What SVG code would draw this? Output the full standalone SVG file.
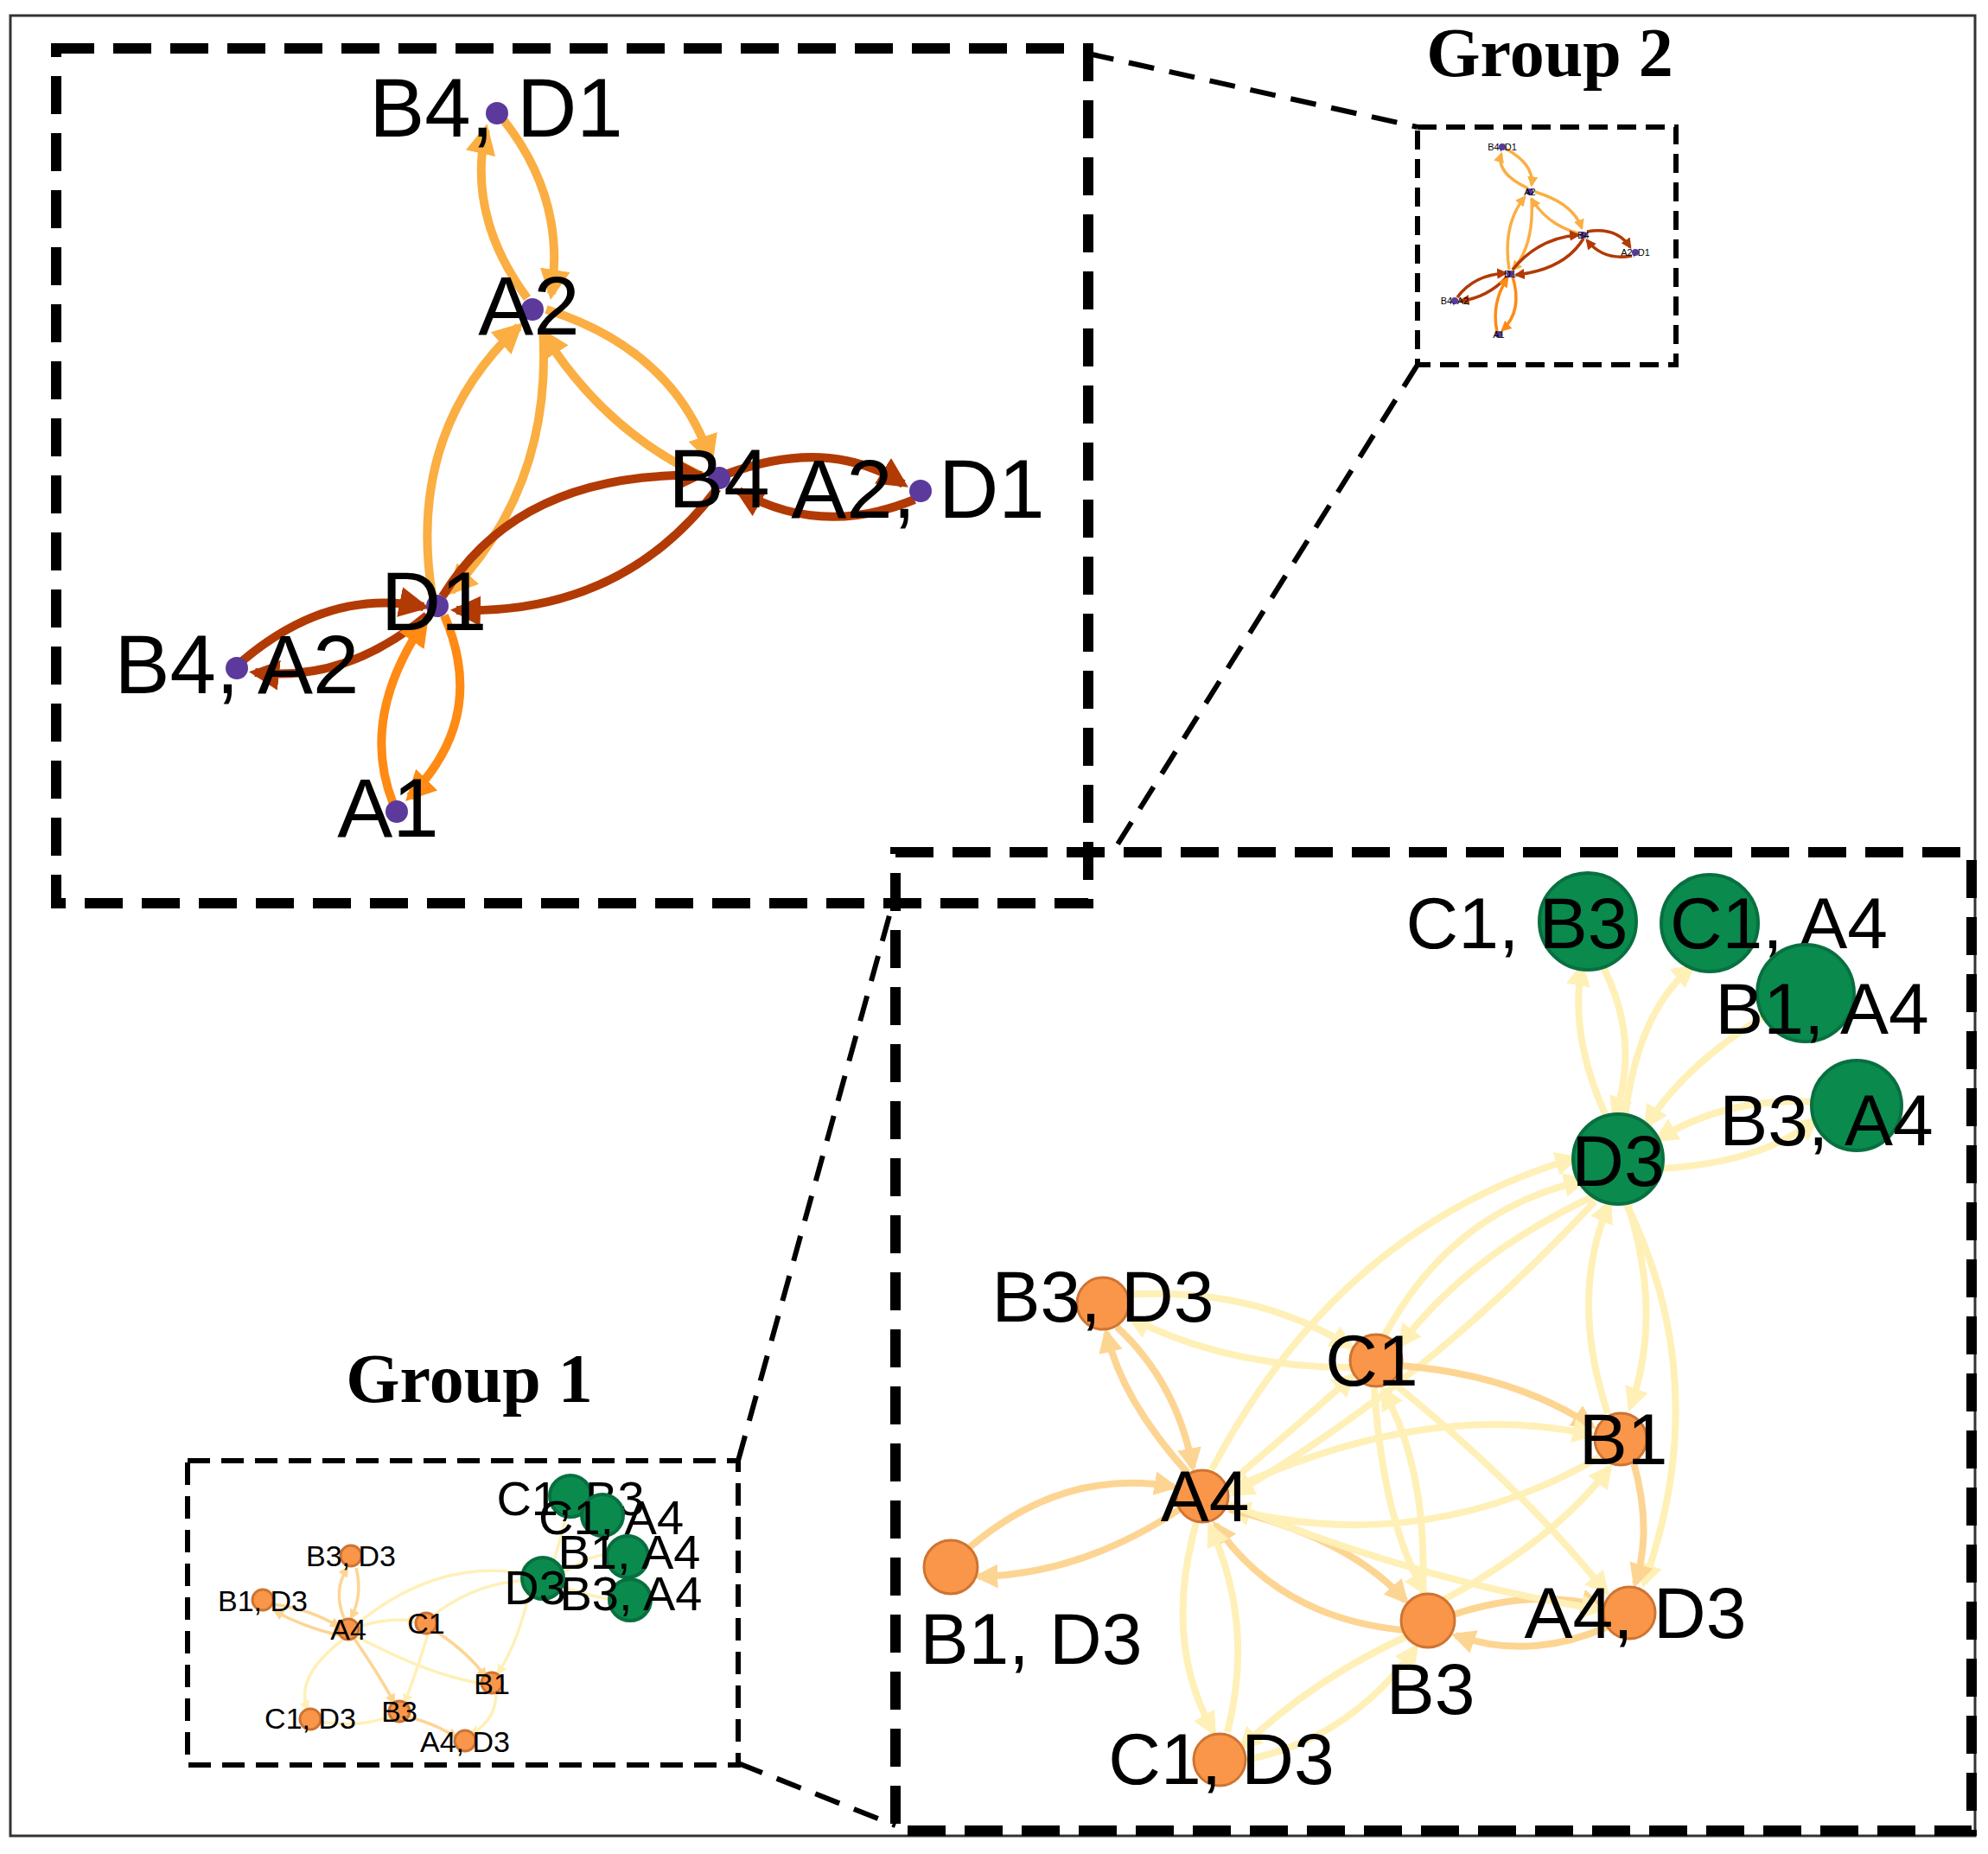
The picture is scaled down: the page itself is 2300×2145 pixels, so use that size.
<svg xmlns="http://www.w3.org/2000/svg" width="2300" height="2145" viewBox="0 0 2300 2145">
<style>
.lbl{font-family:"Liberation Sans",Arial,sans-serif;fill:#000;text-anchor:middle}
.ttl{font-family:"Liberation Serif","Times New Roman",serif;font-weight:bold;fill:#000;text-anchor:middle}
.box{fill:none;stroke:#000}
.e{fill:none}
.y{stroke:#FFF0B8}
.lo{stroke:#FDD593}
.am{stroke:#FBAE42}
.or{stroke:#FF8A14}
.rd{stroke:#B23A05}
.pn{fill:#5B3A9C}
.on{fill:#F9964A;stroke:#CF7431;stroke-width:3}
.gn{fill:#0B8A4E;stroke:#087040;stroke-width:4}
</style>
<defs>
<marker id="my" viewBox="0 0 10 10" refX="8" refY="5" markerWidth="3.5" markerHeight="3.5" orient="auto"><path d="M0,0L10,5L0,10z" fill="#FFF0B8"/></marker>
<marker id="mlo" viewBox="0 0 10 10" refX="8" refY="5" markerWidth="3.5" markerHeight="3.5" orient="auto"><path d="M0,0L10,5L0,10z" fill="#FDD593"/></marker>
<marker id="mam" viewBox="0 0 10 10" refX="8" refY="5" markerWidth="3.5" markerHeight="3.5" orient="auto"><path d="M0,0L10,5L0,10z" fill="#FBAE42"/></marker>
<marker id="mor" viewBox="0 0 10 10" refX="8" refY="5" markerWidth="3.5" markerHeight="3.5" orient="auto"><path d="M0,0L10,5L0,10z" fill="#FF8A14"/></marker>
<marker id="mrd" viewBox="0 0 10 10" refX="8" refY="5" markerWidth="3.5" markerHeight="3.5" orient="auto"><path d="M0,0L10,5L0,10z" fill="#B23A05"/></marker>
</defs>
<rect x="0" y="0" width="2300" height="2145" fill="#fff"/>
<rect x="12" y="18" width="2273" height="2106" fill="none" stroke="#333" stroke-width="3"/>

<g id="frames">
<rect class="box" x="65" y="56" width="1194" height="989" stroke-width="12" stroke-dasharray="44,22"/>
<rect class="box" x="1640" y="147" width="299" height="275" stroke-width="6" stroke-dasharray="22,11"/>
<rect class="box" x="1036" y="986" width="1245" height="1132" stroke-width="12" stroke-dasharray="44,22"/>
<rect class="box" x="217" y="1690" width="637" height="352" stroke-width="6" stroke-dasharray="26,13"/>
<g stroke="#000" stroke-width="6" stroke-dasharray="30,18" fill="none">
<line x1="1259" y1="62" x2="1640" y2="147"/>
<line x1="1640" y1="422" x2="1291" y2="980"/>
<line x1="854" y1="1690" x2="1036" y2="1034"/>
<line x1="854" y1="2040" x2="1036" y2="2112"/>
</g>
<text class="ttl" x="1793" y="88" font-size="80">Group 2</text>
<text class="ttl" x="543" y="1622" font-size="80">Group 1</text>
</g>

<g id="connectors">
<!-- top-left -->
<g stroke-width="10">
<path class="e am" marker-end="url(#mam)" d="M610,345 Q540,250 562,150"/>
<path class="e am" marker-end="url(#mam)" d="M582,138 Q655,230 638,340"/>
<path class="e am" marker-end="url(#mam)" d="M500,688 Q470,500 600,378"/>
<path class="e am" marker-end="url(#mam)" d="M815,552 Q700,500 628,385"/>
<path class="e am" marker-end="url(#mam)" d="M632,358 Q780,405 822,532"/>
<path class="e am" marker-end="url(#mam)" d="M628,380 Q640,560 522,684"/>
<path class="e rd" marker-end="url(#mrd)" d="M512,690 Q600,545 812,550"/>
<path class="e rd" marker-end="url(#mrd)" d="M830,565 Q720,712 528,706"/>
<path class="e rd" marker-end="url(#mrd)" d="M842,548 Q960,505 1045,560"/>
<path class="e rd" marker-end="url(#mrd)" d="M1058,578 Q950,622 855,568"/>
<path class="e rd" marker-end="url(#mrd)" d="M280,765 Q380,680 490,702"/>
<path class="e rd" marker-end="url(#mrd)" d="M494,712 Q400,790 295,778"/>
<path class="e or" marker-end="url(#mor)" d="M514,712 Q565,830 474,922"/>
<path class="e or" marker-end="url(#mor)" d="M455,930 Q415,830 492,718"/>
</g>
<!-- group 2 -->
<g stroke-width="3.5">
<path class="e am" marker-end="url(#mam)" d="M1768,218 Q1730,200 1737,178"/>
<path class="e am" marker-end="url(#mam)" d="M1742,172 Q1775,190 1772,214"/>
<path class="e am" marker-end="url(#mam)" d="M1746,312 Q1738,260 1764,228"/>
<path class="e am" marker-end="url(#mam)" d="M1826,270 Q1790,260 1772,230"/>
<path class="e am" marker-end="url(#mam)" d="M1776,222 Q1820,235 1830,264"/>
<path class="e am" marker-end="url(#mam)" d="M1772,230 Q1775,285 1750,312"/>
<path class="e rd" marker-end="url(#mrd)" d="M1750,312 Q1780,275 1826,272"/>
<path class="e rd" marker-end="url(#mrd)" d="M1832,276 Q1810,312 1754,318"/>
<path class="e rd" marker-end="url(#mrd)" d="M1836,268 Q1870,262 1886,286"/>
<path class="e rd" marker-end="url(#mrd)" d="M1888,296 Q1855,302 1836,278"/>
<path class="e rd" marker-end="url(#mrd)" d="M1686,344 Q1705,318 1742,316"/>
<path class="e rd" marker-end="url(#mrd)" d="M1744,320 Q1720,345 1690,348"/>
<path class="e or" marker-end="url(#mor)" d="M1750,320 Q1762,360 1738,382"/>
<path class="e or" marker-end="url(#mor)" d="M1732,384 Q1725,350 1744,322"/>
</g>
<!-- bottom-right -->
<g stroke-width="8">
<path class="e y" marker-end="url(#my)" d="M1860,1295 Q1815,1200 1830,1118"/>
<path class="e y" marker-end="url(#my)" d="M1850,1110 Q1900,1200 1868,1292"/>
<path class="e y" marker-end="url(#my)" d="M1880,1292 Q1895,1170 1958,1118"/>
<path class="e y" marker-end="url(#my)" d="M2050,1170 Q1950,1230 1905,1302"/>
<path class="e y" marker-end="url(#my)" d="M2100,1275 Q2000,1268 1918,1318"/>
<path class="e y" marker-end="url(#my)" d="M1922,1352 Q2040,1345 2100,1295"/>
<path class="e y" marker-end="url(#my)" d="M1402,1700 Q1550,1420 1822,1340"/>
<path class="e y" marker-end="url(#my)" d="M1602,1545 Q1680,1400 1832,1366"/>
<path class="e y" marker-end="url(#my)" d="M1848,1382 Q1700,1450 1620,1556"/>
<path class="e y" marker-end="url(#my)" d="M1845,1390 Q1650,1600 1428,1728"/>
<path class="e y" marker-end="url(#my)" d="M1882,1390 Q1925,1520 1886,1628"/>
<path class="e y" marker-end="url(#my)" d="M1860,1635 Q1815,1500 1862,1392"/>
<path class="e y" marker-end="url(#my)" d="M1880,1390 Q1985,1600 1902,1832"/>
<path class="e y" marker-end="url(#my)" d="M1302,1498 Q1450,1488 1562,1558"/>
<path class="e y" marker-end="url(#my)" d="M1562,1582 Q1420,1582 1308,1525"/>
<path class="e lo" marker-end="url(#mlo)" d="M1374,1704 Q1298,1620 1280,1542"/>
<path class="e lo" marker-end="url(#mlo)" d="M1292,1535 Q1362,1600 1380,1698"/>
<path class="e lo" marker-end="url(#mlo)" d="M1122,1790 Q1230,1698 1358,1720"/>
<path class="e lo" marker-end="url(#mlo)" d="M1365,1746 Q1250,1822 1132,1824"/>
<path class="e y" marker-end="url(#my)" d="M1420,1718 Q1500,1650 1565,1592"/>
<path class="e lo" marker-end="url(#mlo)" d="M1620,1580 Q1750,1590 1842,1650"/>
<path class="e y" marker-end="url(#my)" d="M1422,1724 Q1650,1618 1842,1660"/>
<path class="e y" marker-end="url(#my)" d="M1850,1686 Q1650,1802 1424,1746"/>
<path class="e lo" marker-end="url(#mlo)" d="M1422,1746 Q1562,1780 1626,1852"/>
<path class="e lo" marker-end="url(#mlo)" d="M1624,1886 Q1480,1872 1406,1764"/>
<path class="e y" marker-end="url(#my)" d="M1384,1762 Q1345,1900 1404,2004"/>
<path class="e y" marker-end="url(#my)" d="M1420,2004 Q1452,1880 1400,1766"/>
<path class="e y" marker-end="url(#my)" d="M1630,1892 Q1520,1942 1436,2022"/>
<path class="e y" marker-end="url(#my)" d="M1442,2036 Q1562,2012 1638,1906"/>
<path class="e lo" marker-end="url(#mlo)" d="M1682,1868 Q1772,1838 1852,1858"/>
<path class="e lo" marker-end="url(#mlo)" d="M1860,1882 Q1770,1922 1684,1892"/>
<path class="e lo" marker-end="url(#mlo)" d="M1890,1692 Q1912,1770 1892,1832"/>
<path class="e y" marker-end="url(#my)" d="M1612,1600 Q1760,1720 1858,1842"/>
<path class="e y" marker-end="url(#my)" d="M1590,1606 Q1600,1760 1648,1842"/>
<path class="e y" marker-end="url(#my)" d="M1646,1844 Q1652,1700 1600,1608"/>
<path class="e y" marker-end="url(#my)" d="M1672,1850 Q1800,1780 1862,1698"/>
<path class="e y" marker-end="url(#my)" d="M1422,1740 Q1650,1832 1852,1862"/>
</g>
<!-- group 1 -->
<g stroke-width="3.5">
<path class="e lo" marker-end="url(#mlo)" d="M398,1872 Q385,1840 402,1814"/>
<path class="e lo" marker-end="url(#mlo)" d="M412,1814 Q420,1845 406,1872"/>
<path class="e lo" marker-end="url(#mlo)" d="M316,1856 Q360,1862 392,1882"/>
<path class="e lo" marker-end="url(#mlo)" d="M392,1892 Q350,1882 318,1864"/>
<path class="e y" marker-end="url(#my)" d="M414,1882 Q455,1870 482,1876"/>
<path class="e y" marker-end="url(#my)" d="M414,1878 Q510,1800 614,1822"/>
<path class="e y" marker-end="url(#my)" d="M500,1870 Q550,1830 614,1828"/>
<path class="e y" marker-end="url(#my)" d="M614,1836 Q600,1900 576,1936"/>
<path class="e lo" marker-end="url(#mlo)" d="M410,1896 Q440,1940 456,1970"/>
<path class="e lo" marker-end="url(#mlo)" d="M472,1986 Q505,1995 528,2010"/>
<path class="e lo" marker-end="url(#mlo)" d="M502,1886 Q540,1910 562,1940"/>
<path class="e y" marker-end="url(#my)" d="M398,1896 Q340,1940 356,1978"/>
<path class="e y" marker-end="url(#my)" d="M370,1992 Q420,2000 454,1984"/>
<path class="e y" marker-end="url(#my)" d="M496,1888 Q480,1940 468,1970"/>
<path class="e y" marker-end="url(#my)" d="M574,1956 Q575,1990 545,2006"/>
<path class="e y" marker-end="url(#my)" d="M410,1892 Q500,1940 560,1948"/>
<path class="e y" marker-end="url(#my)" d="M636,1820 Q650,1780 656,1746"/>
<path class="e y" marker-end="url(#my)" d="M640,1828 Q690,1790 720,1800"/>
<path class="e y" marker-end="url(#my)" d="M640,1832 Q690,1850 720,1852"/>
</g>
</g>

<g id="nodes-top">
<g id="n-b4d1"><circle class="pn" cx="575" cy="131" r="13"/><text class="lbl" x="574" y="158" font-size="96">B4, D1</text></g>
<g id="n-a2"><circle class="pn" cx="616" cy="358" r="13"/><text class="lbl" x="612" y="387" font-size="96">A2</text></g>
<g id="n-b4"><circle class="pn" cx="832" cy="553" r="13"/><text class="lbl" x="832" y="587" font-size="96">B4</text></g>
<g id="n-a2d1"><circle class="pn" cx="1065" cy="568" r="13"/><text class="lbl" x="1062" y="599" font-size="96">A2, D1</text></g>
<g id="n-d1"><circle class="pn" cx="506" cy="701" r="13"/><text class="lbl" x="502" y="729" font-size="96">D1</text></g>
<g id="n-b4a2"><circle class="pn" cx="274" cy="773" r="13"/><text class="lbl" x="274" y="802" font-size="96">B4, A2</text></g>
<g id="n-a1"><circle class="pn" cx="459" cy="939" r="13"/><text class="lbl" x="449" y="968" font-size="96">A1</text></g>
</g>

<g id="nodes-g2">
<g><circle class="pn" cx="1738" cy="170" r="4"/><text class="lbl" x="1738" y="174" font-size="11">B4, D1</text></g>
<g><circle class="pn" cx="1770" cy="222" r="4"/><text class="lbl" x="1770" y="226" font-size="11">A2</text></g>
<g><circle class="pn" cx="1832" cy="272" r="4"/><text class="lbl" x="1832" y="276" font-size="11">B4</text></g>
<g><circle class="pn" cx="1892" cy="292" r="4"/><text class="lbl" x="1892" y="296" font-size="11">A2, D1</text></g>
<g><circle class="pn" cx="1747" cy="317" r="4"/><text class="lbl" x="1747" y="321" font-size="11">D1</text></g>
<g><circle class="pn" cx="1683" cy="348" r="4"/><text class="lbl" x="1683" y="352" font-size="11">B4, A2</text></g>
<g><circle class="pn" cx="1734" cy="387" r="4"/><text class="lbl" x="1734" y="391" font-size="11">A1</text></g>
</g>

<g id="nodes-br">
<g id="m-c1b3"><circle class="gn" cx="1837" cy="1066" r="56"/><text class="lbl" x="1755" y="1097" font-size="84">C1, B3</text></g>
<g id="m-c1a4"><circle class="gn" cx="1978" cy="1068" r="56"/><text class="lbl" x="2058" y="1097" font-size="84">C1, A4</text></g>
<g id="m-b1a4"><circle class="gn" cx="2089" cy="1149" r="56"/><text class="lbl" x="2108" y="1196" font-size="84">B1, A4</text></g>
<g id="m-b3a4"><circle class="gn" cx="2148" cy="1279" r="52"/><text class="lbl" x="2113" y="1325" font-size="84">B3, A4</text></g>
<g id="m-d3"><circle class="gn" cx="1872" cy="1341" r="52"/><text class="lbl" x="1872" y="1372" font-size="84">D3</text></g>
<g id="m-b3d3"><circle class="on" cx="1276" cy="1508" r="30"/><text class="lbl" x="1276" y="1529" font-size="84">B3, D3</text></g>
<g id="m-c1"><circle class="on" cx="1592" cy="1574" r="30"/><text class="lbl" x="1587" y="1603" font-size="84">C1</text></g>
<g id="m-b1"><circle class="on" cx="1875" cy="1665" r="30"/><text class="lbl" x="1878" y="1694" font-size="84">B1</text></g>
<g id="m-a4"><circle class="on" cx="1391" cy="1731" r="30"/><text class="lbl" x="1394" y="1760" font-size="84">A4</text></g>
<g id="m-b1d3"><circle class="on" cx="1100" cy="1813" r="31"/><text class="lbl" x="1193" y="1925" font-size="84">B1, D3</text></g>
<g id="m-b3"><circle class="on" cx="1652" cy="1875" r="31"/><text class="lbl" x="1655" y="1983" font-size="84">B3</text></g>
<g id="m-a4d3"><circle class="on" cx="1885" cy="1866" r="30"/><text class="lbl" x="1892" y="1895" font-size="84">A4, D3</text></g>
<g id="m-c1d3"><circle class="on" cx="1411" cy="2036" r="30"/><text class="lbl" x="1413" y="2064" font-size="84">C1, D3</text></g>
</g>

<g id="nodes-g1">
<g><circle class="gn" cx="660" cy="1731" r="24" stroke-width="2"/><text class="lbl" x="660" y="1753" font-size="56">C1, B3</text></g>
<g><circle class="gn" cx="697" cy="1753" r="24" stroke-width="2"/><text class="lbl" x="707" y="1775" font-size="56">C1, A4</text></g>
<g><circle class="gn" cx="726" cy="1801" r="24" stroke-width="2"/><text class="lbl" x="728" y="1815" font-size="56">B1, A4</text></g>
<g><circle class="gn" cx="729" cy="1851" r="24" stroke-width="2"/><text class="lbl" x="730" y="1863" font-size="56">B3, A4</text></g>
<g><circle class="gn" cx="628" cy="1826" r="24" stroke-width="2"/><text class="lbl" x="619" y="1856" font-size="56">D3</text></g>
<g><circle class="on" cx="406" cy="1800" r="12" stroke-width="1.5"/><text class="lbl" x="406" y="1812" font-size="34">B3, D3</text></g>
<g><circle class="on" cx="304" cy="1851" r="12" stroke-width="1.5"/><text class="lbl" x="304" y="1864" font-size="34">B1, D3</text></g>
<g><circle class="on" cx="403" cy="1885" r="12" stroke-width="1.5"/><text class="lbl" x="403" y="1897" font-size="34">A4</text></g>
<g><circle class="on" cx="493" cy="1878" r="12" stroke-width="1.5"/><text class="lbl" x="493" y="1890" font-size="34">C1</text></g>
<g><circle class="on" cx="569" cy="1947" r="12" stroke-width="1.5"/><text class="lbl" x="569" y="1960" font-size="34">B1</text></g>
<g><circle class="on" cx="462" cy="1980" r="12" stroke-width="1.5"/><text class="lbl" x="462" y="1992" font-size="34">B3</text></g>
<g><circle class="on" cx="538" cy="2014" r="12" stroke-width="1.5"/><text class="lbl" x="538" y="2027" font-size="34">A4, D3</text></g>
<g><circle class="on" cx="359" cy="1989" r="12" stroke-width="1.5"/><text class="lbl" x="359" y="2000" font-size="34">C1, D3</text></g>
</g>
</svg>
